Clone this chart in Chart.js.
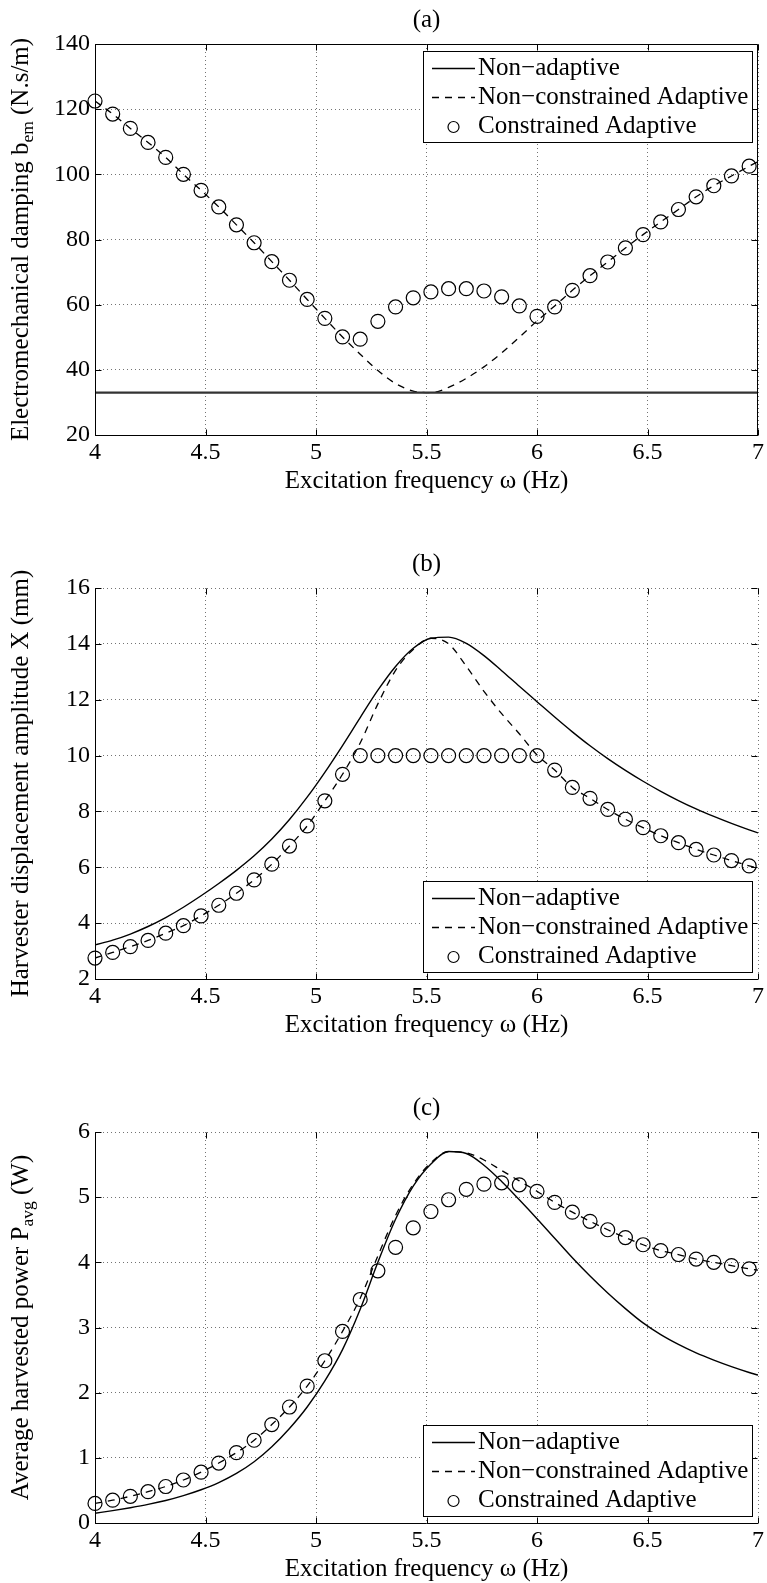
<!DOCTYPE html>
<html>
<head>
<meta charset="utf-8">
<script src="https://cdn.jsdelivr.net/npm/chart.js@4.4.1/dist/chart.umd.min.js"></script>
<style>
  html, body { margin: 0; padding: 0; background: #fff; }
  #page { position: relative; width: 767px; height: 1583px; }
  #page canvas { position: absolute; left: 0; }
</style>
</head>
<body>
<div id="page">
  <canvas id="chartA" width="767" height="544" style="top:0"></canvas>
  <canvas id="chartB" width="767" height="544" style="top:544px"></canvas>
  <canvas id="chartC" width="767" height="495" style="top:1088px"></canvas>
</div>
<script>
// excitation frequencies (Hz) of the constrained adaptive runs
const freq = [4.00, 4.08, 4.16, 4.24, 4.32, 4.40, 4.48, 4.56, 4.64, 4.72, 4.80, 4.88, 4.96,
    5.04, 5.12, 5.20, 5.28, 5.36, 5.44, 5.52, 5.60, 5.68, 5.76, 5.84, 5.92, 6.00, 6.08,
    6.16, 6.24, 6.32, 6.40, 6.48, 6.56, 6.64, 6.72, 6.80, 6.88, 6.96];
// frequencies used for the continuous curves
const curveFreq = [4.00, 4.08, 4.16, 4.24, 4.32, 4.40, 4.48, 4.56, 4.64, 4.72, 4.80, 4.88, 4.96,
    5.04, 5.12, 5.20, 5.28, 5.36, 5.44, 5.52, 5.60, 5.68, 5.76, 5.84, 5.92, 6.00, 6.08,
    6.16, 6.24, 6.32, 6.40, 6.48, 6.56, 6.64, 6.72, 6.80, 6.88, 6.96, 7.00];
const freqTicks = [4, 4.5, 5, 5.5, 6, 6.5, 7];
const legendLabels = ['Non\u2212adaptive', 'Non\u2212constrained Adaptive', 'Constrained Adaptive'];

// (a) electromechanical damping b_em (N.s/m)
const dampNonAdaptiveFreq = [4, 7];
const dampNonAdaptive = [33, 33];
const dampNonConstrained = [122.5, 118.5, 114.1, 109.8, 105.2, 100.0, 95.1, 90.0, 84.5, 79.0, 73.2,
    67.5, 61.6, 55.8, 50.1, 44.8, 39.8, 35.8, 33.5, 33.0, 34.6, 37.4, 40.9, 45.2, 50.0, 55.0,
    59.6, 64.4, 68.9, 73.1, 77.4, 81.5, 85.4, 89.2, 93.1, 96.5, 99.5, 102.5, 103.9];
const dampConstrained = [122.5, 118.5, 114.1, 109.8, 105.2, 100.0, 95.1, 90.0, 84.5, 79.0, 73.2,
    67.5, 61.6, 55.8, 50.1, 49.4, 54.9, 59.3, 62.1, 63.9, 64.9, 64.9, 64.2, 62.4, 59.6, 56.4,
    59.3, 64.4, 68.9, 73.1, 77.4, 81.5, 85.4, 89.2, 93.1, 96.5, 99.5, 102.5];

// (b) displacement amplitude X (mm)
const dispNonAdaptive = [3.22, 3.39, 3.61, 3.88, 4.20, 4.57, 4.98, 5.42, 5.89, 6.41, 7.01, 7.71,
    8.51, 9.40, 10.36, 11.36, 12.34, 13.19, 13.84, 14.20, 14.24, 14.02, 13.58, 13.04, 12.48,
    11.93, 11.38, 10.85, 10.35, 9.89, 9.47, 9.08, 8.72, 8.39, 8.09, 7.82, 7.57, 7.34, 7.23];
const dispNonConstrained = [2.75, 2.95, 3.16, 3.38, 3.64, 3.91, 4.26, 4.64, 5.07, 5.55, 6.11, 6.76,
    7.48, 8.38, 9.33, 10.45, 11.85, 13.05, 13.80, 14.20, 14.00, 13.20, 12.30, 11.50, 10.78,
    10.02, 9.48, 8.86, 8.47, 8.07, 7.72, 7.42, 7.13, 6.88, 6.64, 6.44, 6.24, 6.05, 5.97];
const dispConstrained = [2.75, 2.95, 3.16, 3.38, 3.64, 3.91, 4.26, 4.64, 5.07, 5.55, 6.11, 6.76,
    7.48, 8.38, 9.33, 10, 10, 10, 10, 10, 10, 10, 10, 10, 10, 10,
    9.48, 8.86, 8.47, 8.07, 7.72, 7.42, 7.13, 6.88, 6.64, 6.44, 6.24, 6.05];

// (c) average harvested power P_avg (W)
const powerNonAdaptive = [0.15, 0.19, 0.235, 0.285, 0.345, 0.42, 0.51, 0.62, 0.76, 0.94, 1.17, 1.45,
    1.78, 2.18, 2.66, 3.28, 4.00, 4.66, 5.17, 5.51, 5.70, 5.67, 5.49, 5.24, 4.96, 4.67, 4.37,
    4.07, 3.79, 3.53, 3.29, 3.07, 2.89, 2.74, 2.61, 2.50, 2.40, 2.31, 2.27];
const powerNonConstrained = [0.30, 0.35, 0.41, 0.48, 0.56, 0.66, 0.78, 0.92, 1.08, 1.27, 1.51, 1.78,
    2.10, 2.49, 2.94, 3.45, 4.10, 4.72, 5.20, 5.53, 5.70, 5.68, 5.57, 5.41, 5.25, 5.09, 4.92,
    4.77, 4.63, 4.50, 4.38, 4.27, 4.18, 4.12, 4.05, 4.00, 3.95, 3.90, 3.88];
const powerConstrained = [0.30, 0.35, 0.41, 0.48, 0.56, 0.66, 0.78, 0.92, 1.08, 1.27, 1.51, 1.78,
    2.10, 2.49, 2.94, 3.43, 3.87, 4.23, 4.53, 4.78, 4.96, 5.12, 5.20, 5.22, 5.19, 5.09, 4.92,
    4.77, 4.63, 4.50, 4.38, 4.27, 4.18, 4.12, 4.05, 4.00, 3.95, 3.90];

const SERIF = '"Liberation Serif", "Times New Roman", Times, serif';
Chart.defaults.font.family = SERIF;
Chart.defaults.font.size = 24;
Chart.defaults.color = '#000';

function pairUp(xs, ys) {
    return ys.map((y, i) => ({ x: xs[i], y: y }));
}

// draws text made of normal and subscript pieces, centred on (0,0)
function drawRichText(ctx, parts, size) {
    const measure = parts.map(([txt, sub]) => {
        ctx.font = (sub ? size * 0.7 : size) + 'px ' + SERIF;
        return ctx.measureText(txt).width;
    });
    let x = -measure.reduce((s, w) => s + w, 0) / 2;
    parts.forEach(([txt, sub], i) => {
        ctx.font = (sub ? size * 0.7 : size) + 'px ' + SERIF;
        ctx.fillText(txt, x, sub ? size * 0.3 : 0);
        x += measure[i];
    });
}

// axes box, inward ticks, titles and the boxed legend
const matlabFrame = {
    id: 'matlabFrame',
    afterDraw(chart, args, opts) {
        const { ctx, chartArea: a, scales: { x, y } } = chart;
        ctx.save();
        ctx.setLineDash([]);
        ctx.strokeStyle = '#000';
        ctx.lineWidth = 1;

        const L = a.left + 0.5, R = a.right - 0.5, T = a.top + 0.5, B = a.bottom + 0.5;
        ctx.beginPath();
        ctx.moveTo(L, T);
        ctx.lineTo(L, B);
        ctx.lineTo(R + 0.5, B);
        if (opts.closed) {
            ctx.moveTo(R, B);
            ctx.lineTo(R, T);
            ctx.lineTo(L, T);
        }
        ctx.stroke();

        // tick marks pointing into the plot
        const tl = 6;
        ctx.beginPath();
        x.ticks.forEach(t => {
            const px = Math.round(x.getPixelForValue(t.value)) + 0.5;
            ctx.moveTo(px, B); ctx.lineTo(px, B - tl);
            ctx.moveTo(px, T); ctx.lineTo(px, T + tl);
        });
        y.ticks.forEach(t => {
            const py = Math.round(y.getPixelForValue(t.value)) + 0.5;
            ctx.moveTo(L, py); ctx.lineTo(L + tl, py);
            ctx.moveTo(R, py); ctx.lineTo(R - tl, py);
        });
        ctx.stroke();

        // titles
        ctx.fillStyle = '#000';
        ctx.textAlign = 'left';
        ctx.textBaseline = 'middle';
        const midX = (a.left + a.right) / 2;
        ctx.save();
        ctx.translate(midX, a.top - 24);
        drawRichText(ctx, [[opts.title]], 25);
        ctx.restore();
        ctx.save();
        ctx.translate(midX, a.bottom + 46);
        drawRichText(ctx, [['Excitation frequency \u03c9 (Hz)']], 25);
        ctx.restore();
        ctx.save();
        ctx.translate(21, (a.top + a.bottom) / 2);
        ctx.rotate(-Math.PI / 2);
        drawRichText(ctx, opts.yTitle, 25);
        ctx.restore();

        // legend box
        const lx = a.left + 328, lw = a.right - 6 - lx, lh = 91;
        const ly = opts.legend === 'top' ? a.top + 7 : a.bottom - 7 - lh;
        ctx.fillStyle = '#fff';
        ctx.fillRect(lx, ly, lw, lh);
        ctx.strokeStyle = '#000';
        ctx.lineWidth = 1;
        ctx.strokeRect(lx + 0.5, ly + 0.5, lw, lh);
        chart.data.datasets.forEach((ds, i) => {
            const ry = ly + 17 + i * 29;
            ctx.strokeStyle = '#000';
            if (ds.showLine) {
                ctx.lineWidth = 1.3;
                ctx.setLineDash(ds.borderDash || []);
                ctx.beginPath();
                ctx.moveTo(lx + 9, ry + 0.5);
                ctx.lineTo(lx + 52, ry + 0.5);
                ctx.stroke();
                ctx.setLineDash([]);
            } else {
                ctx.lineWidth = 1.2;
                ctx.beginPath();
                ctx.arc(lx + 30.5, ry + 1, 5.5, 0, Math.PI * 2);
                ctx.stroke();
            }
            ctx.fillStyle = '#000';
            ctx.font = '25px ' + SERIF;
            ctx.textAlign = 'left';
            ctx.textBaseline = 'middle';
            ctx.fillText(ds.label, lx + 55, ry);
        });
        ctx.restore();
    }
};

function buildChart(id, cfg) {
    const canvas = document.getElementById(id);
    const H = canvas.height;
    return new Chart(canvas.getContext('2d'), {
        type: 'scatter',
        data: {
            datasets: [
                {
                    label: legendLabels[0],
                    data: pairUp(cfg.solidFreq, cfg.solid),
                    showLine: true,
                    borderColor: cfg.solidColor || '#000',
                    borderWidth: cfg.solidWidth || 1.4,
                    pointRadius: 0,
                    cubicInterpolationMode: 'monotone'
                },
                {
                    label: legendLabels[1],
                    data: pairUp(curveFreq, cfg.dashed),
                    showLine: true,
                    borderColor: '#000',
                    borderWidth: 1.3,
                    borderDash: [7, 6],
                    pointRadius: 0,
                    cubicInterpolationMode: 'monotone'
                },
                {
                    label: legendLabels[2],
                    data: pairUp(freq, cfg.circles),
                    showLine: false,
                    pointStyle: 'circle',
                    pointRadius: 7,
                    pointBorderWidth: 1.2,
                    pointBorderColor: '#000',
                    pointBackgroundColor: 'rgba(0,0,0,0)',
                    clip: false
                }
            ]
        },
        options: {
            responsive: false,
            animation: false,
            events: [],
            layout: { padding: { top: 44, right: 8, bottom: 0, left: 0 } },
            plugins: {
                legend: { display: false },
                tooltip: { enabled: false },
                matlabFrame: { title: cfg.title, yTitle: cfg.yTitle, legend: cfg.legend, closed: cfg.closed }
            },
            scales: {
                x: {
                    type: 'linear',
                    min: 4,
                    max: 7,
                    afterFit(s) { s.height = H - 435; },
                    afterBuildTicks(s) { s.ticks = freqTicks.map(v => ({ value: v })); },
                    grid: { color: 'rgba(0,0,0,0.55)', lineWidth: 1, drawTicks: false },
                    border: { display: false, dash: [1, 3] },
                    ticks: { padding: 3, maxRotation: 0, font: { size: 24 }, callback: v => String(v) }
                },
                y: {
                    type: 'linear',
                    min: cfg.yMin,
                    max: cfg.yMax,
                    afterFit(s) { s.width = 95; },
                    grid: { color: 'rgba(0,0,0,0.55)', lineWidth: 1, drawTicks: false },
                    border: { display: false, dash: [1, 3] },
                    ticks: { stepSize: cfg.yStep, padding: 5, font: { size: 24 }, callback: v => String(v) }
                }
            }
        },
        plugins: [matlabFrame]
    });
}

buildChart('chartA', {
    title: '(a)',
    yTitle: [['Electromechanical damping b'], ['em', true], [' (N.s/m)']],
    yMin: 20, yMax: 140, yStep: 20,
    legend: 'top', closed: true,
    solidFreq: dampNonAdaptiveFreq, solid: dampNonAdaptive,
    solidColor: '#333', solidWidth: 2.2,
    dashed: dampNonConstrained, circles: dampConstrained
});

buildChart('chartB', {
    title: '(b)',
    yTitle: [['Harvester displacement amplitude X (mm)']],
    yMin: 2, yMax: 16, yStep: 2,
    legend: 'bottom', closed: false,
    solidFreq: curveFreq, solid: dispNonAdaptive,
    dashed: dispNonConstrained, circles: dispConstrained
});

buildChart('chartC', {
    title: '(c)',
    yTitle: [['Average harvested power P'], ['avg', true], [' (W)']],
    yMin: 0, yMax: 6, yStep: 1,
    legend: 'bottom', closed: false,
    solidFreq: curveFreq, solid: powerNonAdaptive,
    dashed: powerNonConstrained, circles: powerConstrained
});
</script>
</body>
</html>
